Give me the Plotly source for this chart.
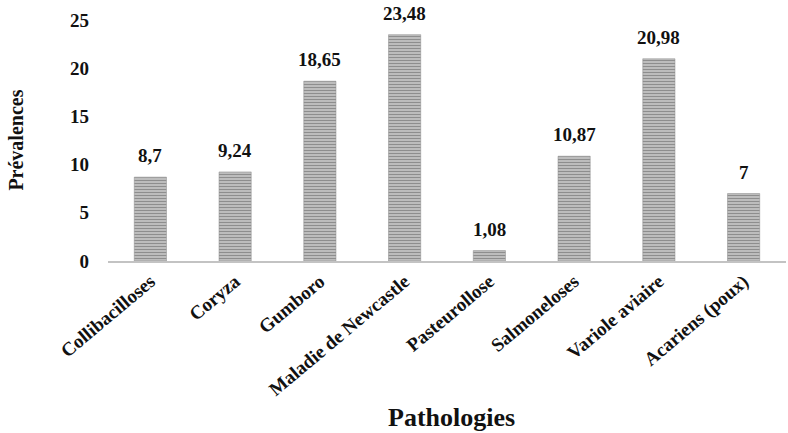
import plotly.graph_objects as go

categories = ["Collibacilloses", "Coryza", "Gumboro", "Maladie de Newcastle",
              "Pasteurollose", "Salmoneloses", "Variole aviaire", "Acariens (poux)"]
prevalences = [8.7, 9.24, 18.65, 23.48, 1.08, 10.87, 20.98, 7]
value_labels = [str(v).replace(".", ",") for v in prevalences]
y_ticks = [0, 5, 10, 15, 20, 25]

FONT = "Liberation Serif"

fig = go.Figure()
fig.add_trace(go.Bar(
    x=categories, y=prevalences, width=0.38,
    marker=dict(color="#9a9a9a", line=dict(width=0.5, color="#888888"),
                pattern=dict(shape="-", fgcolor="#555555", bgcolor="#c6c6c6",
                             size=3, solidity=0.45)),
    hoverinfo="skip",
))

for c, v, t in zip(categories, prevalences, value_labels):
    fig.add_annotation(x=c, y=v, text="<b>%s</b>" % t, showarrow=False,
                       yanchor="bottom", yshift=9,
                       font=dict(family=FONT, size=19, color="#111"))

fig.add_annotation(text="<b>Prévalences</b>", xref="paper", yref="paper",
                   x=-0.137, y=0.5, xanchor="center", yanchor="middle",
                   textangle=-90, showarrow=False,
                   font=dict(family=FONT, size=20, color="#111"))
fig.add_annotation(text="<b>Pathologies</b>", xref="paper", yref="paper",
                   x=0.507, y=-0.651, xanchor="center", yanchor="middle",
                   showarrow=False,
                   font=dict(family=FONT, size=26, color="#111"))

fig.update_layout(
    width=788, height=433,
    margin=dict(l=108, r=2, t=20, b=172, autoexpand=False),
    plot_bgcolor="white", paper_bgcolor="white",
    showlegend=False,
    font=dict(family=FONT, color="#111"),
)
fig.update_xaxes(
    tickangle=-40, automargin=False,
    tickfont=dict(family=FONT, size=19, color="#111"),
    tickprefix="<b>", ticksuffix="</b>",
    showline=True, linecolor="#c3c3c3", linewidth=2,
    showgrid=False, ticks="",
)
fig.update_yaxes(
    range=[0, 25], tickvals=y_ticks, automargin=False,
    ticktext=["<b>%d</b>" % t for t in y_ticks],
    tickfont=dict(family=FONT, size=19, color="#111"),
    showgrid=False, zeroline=False, showline=False, ticks="",
    ticklabelstandoff=18,
)

fig.write_html("out.html", config={"displayModeBar": False},
               post_script="document.body.style.margin='0';")
